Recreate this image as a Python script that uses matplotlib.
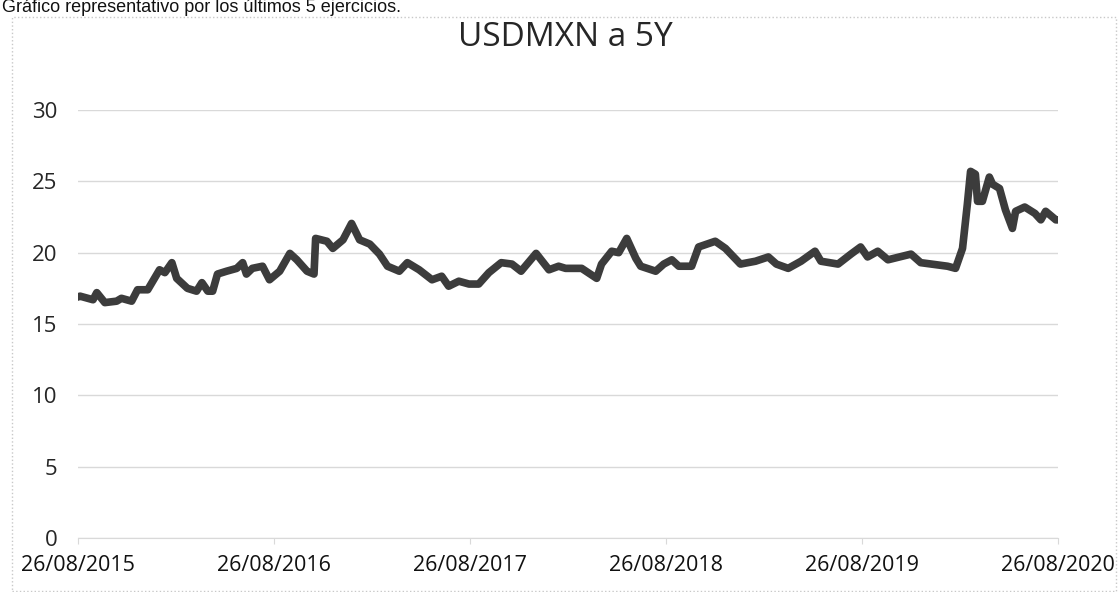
import matplotlib
matplotlib.use("Agg")
import matplotlib.pyplot as plt
import matplotlib.dates as mdates
from matplotlib.patches import Rectangle
import pandas as pd

# values (approximate)
dates = [
    "2015-08-26", "2015-08-30", "2015-09-23", "2015-09-30", "2015-10-15", "2015-11-06",
    "2015-11-15", "2015-12-04", "2015-12-15", "2016-01-03", "2016-01-25", "2016-02-04",
    "2016-02-17", "2016-02-26", "2016-03-17", "2016-04-03", "2016-04-13", "2016-04-24",
    "2016-05-03", "2016-05-12", "2016-05-29", "2016-06-17", "2016-06-28", "2016-07-05",
    "2016-07-16", "2016-08-04", "2016-08-17", "2016-09-05", "2016-09-24", "2016-10-07",
    "2016-10-26", "2016-11-08", "2016-11-11", "2016-12-02", "2016-12-13", "2017-01-01",
    "2017-01-17", "2017-02-01", "2017-02-20", "2017-03-10", "2017-03-25", "2017-04-16",
    "2017-05-01", "2017-05-23", "2017-06-16", "2017-07-04", "2017-07-17", "2017-08-05",
    "2017-08-24", "2017-09-11", "2017-09-30", "2017-10-23", "2017-11-12", "2017-11-29",
    "2017-12-27", "2018-01-20", "2018-02-07", "2018-02-20", "2018-03-22", "2018-04-19",
    "2018-04-28", "2018-05-17", "2018-05-30", "2018-06-14", "2018-07-01", "2018-07-10",
    "2018-08-07", "2018-08-22", "2018-09-06", "2018-09-19", "2018-10-13", "2018-10-26",
    "2018-11-26", "2018-12-15", "2019-01-12", "2019-02-09", "2019-03-05", "2019-03-20",
    "2019-04-11", "2019-05-05", "2019-05-31", "2019-06-11", "2019-07-13", "2019-08-06",
    "2019-08-24", "2019-09-06", "2019-09-25", "2019-10-14", "2019-11-26", "2019-12-14",
    "2020-02-02", "2020-02-17", "2020-03-01", "2020-03-10", "2020-03-16", "2020-03-25",
    "2020-03-29", "2020-04-07", "2020-04-20", "2020-04-26", "2020-05-09", "2020-05-20",
    "2020-06-02", "2020-06-08", "2020-06-25", "2020-07-14", "2020-07-25", "2020-08-03",
    "2020-08-22", "2020-08-26",
]
usdmxn = [
    16.9, 16.95, 16.7, 17.2, 16.5, 16.6,
    16.8, 16.6, 17.4, 17.4, 18.8, 18.6,
    19.3, 18.2, 17.5, 17.3, 17.9, 17.3,
    17.3, 18.5, 18.7, 18.9, 19.3, 18.5,
    18.9, 19.05, 18.1, 18.7, 19.95, 19.5,
    18.7, 18.5, 21.0, 20.8, 20.3, 20.9,
    22.05, 20.9, 20.6, 19.9, 19.05, 18.7,
    19.3, 18.8, 18.1, 18.35, 17.65, 18.0,
    17.8, 17.8, 18.6, 19.3, 19.2, 18.7,
    19.95, 18.8, 19.05, 18.9, 18.9, 18.2,
    19.2, 20.1, 20.0, 21.0, 19.6, 19.05,
    18.7, 19.2, 19.5, 19.05, 19.05, 20.4,
    20.8, 20.3, 19.2, 19.4, 19.7, 19.2,
    18.9, 19.4, 20.1, 19.4, 19.2, 19.9,
    20.4, 19.7, 20.1, 19.5, 19.9, 19.3,
    19.05, 18.9, 20.3, 23.4, 25.7, 25.5,
    23.6, 23.6, 25.3, 24.8, 24.5, 23.0,
    21.7, 22.9, 23.2, 22.75, 22.3, 22.9,
    22.3, 22.3,
]
tick_dates = ["2015-08-26", "2016-08-26", "2017-08-26", "2018-08-26", "2019-08-26", "2020-08-26"]
tick_labels = ["26/08/2015", "26/08/2016", "26/08/2017", "26/08/2018", "26/08/2019", "26/08/2020"]
y_ticks = [0, 5, 10, 15, 20, 25, 30]

x = pd.to_datetime(dates)
xt = pd.to_datetime(tick_dates)

fig = plt.figure(figsize=(11.19, 5.92), dpi=100)
ax = fig.add_axes([78 / 1119, 54 / 592, (1058 - 78) / 1119, (538 - 110) / 592])

ax.plot(x, usdmxn, color="#3c3c3c", linewidth=5.5, solid_joinstyle="round")

ax.set_ylim(0, 30)
ax.set_xlim(xt[0], xt[-1])
ax.set_yticks(y_ticks)
ax.set_xticks(mdates.date2num(xt))
ax.set_xticklabels(tick_labels)
ax.grid(axis="y", color="#d9d9d9", linewidth=1)
ax.set_axisbelow(True)
for s in ["top", "right", "left"]:
    ax.spines[s].set_visible(False)
ax.spines["bottom"].set_color("#d9d9d9")
ax.tick_params(axis="y", length=0, pad=15, labelsize=16, labelcolor="#262626")
ax.tick_params(axis="x", length=4, color="#d9d9d9", pad=8, labelsize=15.5, labelcolor="#111111")
for lab in ax.get_xticklabels() + ax.get_yticklabels():
    lab.set_family("Open Sans")

fig.text(565 / 1119, 1 - 38 / 592, "USDMXN a 5Y", ha="center", va="center",
         fontsize=24, family="Open Sans", color="#262626")
fig.text(2 / 1119, 1 - 12 / 592, "Gráfico representativo por los últimos 5 ejercicios.",
         ha="left", va="baseline", fontsize=13, family="Liberation Sans", color="#111111")

fig.patches.append(Rectangle((12 / 1119, 0.002), 1104 / 1119, 1 - 18 / 592,
                             transform=fig.transFigure, fill=False,
                             edgecolor="#c8c8c8", linestyle=":", linewidth=1))

fig.savefig("out.png", dpi=100)
